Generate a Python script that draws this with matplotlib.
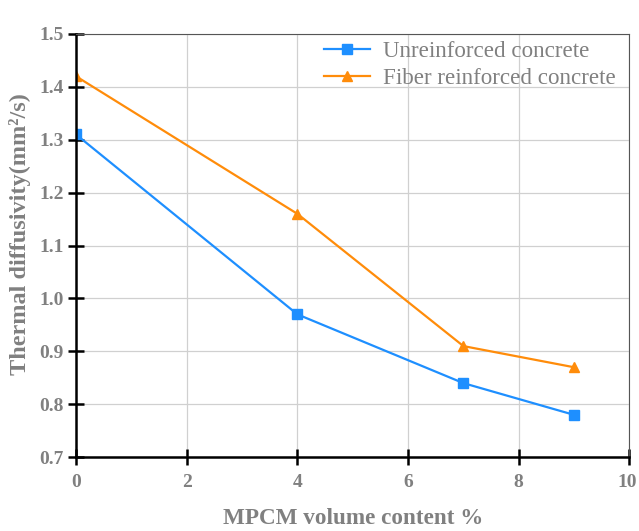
import matplotlib
matplotlib.use('Agg')
import matplotlib.pyplot as plt
import matplotlib.transforms as mtransforms

# data
mpcm = [0, 4, 7, 9]
unreinforced = [1.31, 0.97, 0.84, 0.78]
fiber = [1.42, 1.16, 0.91, 0.87]
x_ticks = [0, 2, 4, 6, 8, 10]
y_ticks = [0.7, 0.8, 0.9, 1.0, 1.1, 1.2, 1.3, 1.4, 1.5]

plt.rcParams['font.family'] = ['Liberation Serif', 'DejaVu Serif']

fig = plt.figure(figsize=(6.39, 5.31), dpi=100)
ax = fig.add_axes([0.119, 0.139, 0.866, 0.797])

ax.plot(mpcm, unreinforced, color='#1E8FFF', marker='s', markersize=7, lw=1.6,
        label='Unreinforced concrete')
ax.plot(mpcm, fiber, color='#FF8C0A', marker='^', markersize=7, lw=1.6,
        label='Fiber reinforced concrete')

ax.set_xlim(0, 10)
ax.set_ylim(0.7, 1.5)
ax.set_xticks(x_ticks)
ax.set_yticks(y_ticks)
ax.set_xticklabels([str(v) for v in x_ticks])
ax.set_yticklabels(['%.1f' % v for v in y_ticks])
ax.grid(True, color='#d0d0d0', lw=0.9)
ax.set_axisbelow(True)

ax.tick_params(direction='inout', length=12, width=1.8, colors='black',
               labelcolor='#808080', labelsize=14)
ax.tick_params(axis='x', pad=6)
ax.tick_params(axis='y', pad=3)
for lab in ax.get_xticklabels() + ax.get_yticklabels():
    lab.set_fontweight('bold')

# nudge the last x tick label so it stays inside the figure
last = ax.get_xticklabels()[-1]
last.set_transform(last.get_transform() +
                   mtransforms.ScaledTranslation(-2 / 100, 0, fig.dpi_scale_trans))

ax.spines['left'].set_linewidth(1.8)
ax.spines['bottom'].set_linewidth(1.8)
ax.spines['top'].set_color('#555555')
ax.spines['right'].set_color('#555555')

ax.set_xlabel('MPCM volume content %', fontsize=16.7, fontweight='bold',
              color='#808080', labelpad=12)
ax.set_ylabel('Thermal diffusivity(mm²/s)', fontsize=17.5, fontweight='bold',
              color='#808080')
ax.yaxis.set_label_coords(-0.081, 0.527)

leg = ax.legend(loc='upper right', frameon=False, fontsize=16.6,
                bbox_to_anchor=(1.012, 1.032), handlelength=2.0,
                handletextpad=0.55, labelspacing=0.25)
for t in leg.get_texts():
    t.set_color('#808080')

fig.savefig('out.png', dpi=100)
